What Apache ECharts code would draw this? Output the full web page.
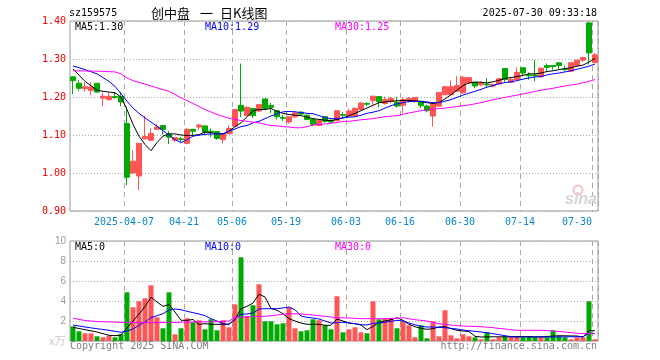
<!DOCTYPE html>
<html><head><meta charset="utf-8">
<script src="https://cdn.jsdelivr.net/npm/echarts@6/dist/echarts.min.js"></script>
<style>html,body{margin:0;padding:0;background:#fff}#c{width:660px;height:360px}</style>
</head><body><div id="c"></div>
<script>
const dates = ['2025-03-24','2025-03-25','2025-03-26','2025-03-27','2025-03-28','2025-03-31','2025-04-01','2025-04-02','2025-04-03','2025-04-07','2025-04-08','2025-04-09','2025-04-10','2025-04-11','2025-04-14','2025-04-15','2025-04-16','2025-04-17','2025-04-18','2025-04-21','2025-04-22','2025-04-23','2025-04-24','2025-04-25','2025-04-28','2025-04-29','2025-04-30','2025-05-06','2025-05-07','2025-05-08','2025-05-09','2025-05-12','2025-05-13','2025-05-14','2025-05-15','2025-05-16','2025-05-19','2025-05-20','2025-05-21','2025-05-22','2025-05-23','2025-05-26','2025-05-27','2025-05-28','2025-05-29','2025-05-30','2025-06-03','2025-06-04','2025-06-05','2025-06-06','2025-06-09','2025-06-10','2025-06-11','2025-06-12','2025-06-13','2025-06-16','2025-06-17','2025-06-18','2025-06-19','2025-06-20','2025-06-23','2025-06-24','2025-06-25','2025-06-26','2025-06-27','2025-06-30','2025-07-01','2025-07-02','2025-07-03','2025-07-04','2025-07-07','2025-07-08','2025-07-09','2025-07-10','2025-07-11','2025-07-14','2025-07-15','2025-07-16','2025-07-17','2025-07-18','2025-07-21','2025-07-22','2025-07-23','2025-07-24','2025-07-25','2025-07-28','2025-07-29','2025-07-30'];

const opens = [1.253,1.236,1.222,1.217,1.236,1.197,1.193,1.201,1.201,1.130,
 1.000,0.992,1.090,1.086,1.115,1.125,1.102,1.086,1.090,1.078,
 1.115,1.121,1.124,1.110,1.109,1.088,1.103,1.123,1.178,1.151,
 1.170,1.163,1.195,1.178,1.164,1.146,1.134,1.148,1.160,1.152,
 1.141,1.125,1.148,1.138,1.138,1.154,1.150,1.150,1.167,1.183,
 1.191,1.201,1.183,1.188,1.186,1.178,1.193,1.188,1.189,1.176,
 1.150,1.176,1.206,1.206,1.215,1.211,1.237,1.239,1.232,1.234,
 1.229,1.234,1.275,1.239,1.246,1.277,1.258,1.258,1.253,1.283,
 1.283,1.290,1.274,1.268,1.283,1.297,1.395,1.291];
const closes = [1.243,1.223,1.227,1.226,1.213,1.202,1.202,1.199,1.187,0.989,
 1.031,1.078,1.096,1.104,1.121,1.115,1.094,1.093,1.088,1.115,
 1.110,1.126,1.108,1.108,1.091,1.103,1.117,1.167,1.163,1.173,
 1.151,1.180,1.170,1.173,1.148,1.144,1.148,1.158,1.155,1.141,
 1.128,1.138,1.136,1.134,1.164,1.152,1.163,1.170,1.184,1.181,
 1.202,1.188,1.193,1.196,1.176,1.193,1.196,1.199,1.177,1.164,
 1.183,1.212,1.227,1.227,1.230,1.252,1.251,1.229,1.237,1.232,
 1.233,1.248,1.246,1.246,1.265,1.263,1.256,1.256,1.276,1.278,
 1.280,1.283,1.272,1.290,1.297,1.304,1.316,1.311];
const lows = [1.208,1.216,1.214,1.205,1.211,1.176,1.191,1.195,1.176,0.968,
 0.998,0.955,1.088,1.084,1.113,1.101,1.076,1.081,1.081,1.076,
 1.097,1.113,1.099,1.095,1.088,1.078,1.103,1.122,1.147,1.150,
 1.145,1.160,1.167,1.158,1.141,1.137,1.130,1.144,1.151,1.139,
 1.123,1.123,1.132,1.129,1.136,1.144,1.148,1.149,1.165,1.176,
 1.178,1.173,1.180,1.183,1.172,1.157,1.186,1.185,1.171,1.160,
 1.122,1.173,1.205,1.205,1.213,1.208,1.235,1.223,1.228,1.224,
 1.225,1.233,1.237,1.237,1.244,1.254,1.246,1.241,1.250,1.268,
 1.272,1.274,1.268,1.266,1.282,1.292,1.285,1.290];
const highs = [1.253,1.244,1.239,1.239,1.236,1.211,1.211,1.213,1.213,1.174,
 1.060,1.078,1.151,1.117,1.130,1.125,1.110,1.095,1.095,1.118,
 1.115,1.130,1.124,1.117,1.109,1.103,1.125,1.167,1.288,1.176,
 1.170,1.180,1.195,1.185,1.164,1.153,1.148,1.164,1.163,1.154,
 1.143,1.141,1.150,1.141,1.164,1.160,1.169,1.173,1.186,1.186,
 1.204,1.201,1.201,1.200,1.200,1.199,1.200,1.200,1.189,1.180,
 1.183,1.212,1.230,1.243,1.255,1.255,1.251,1.241,1.241,1.250,
 1.235,1.250,1.275,1.253,1.278,1.277,1.265,1.297,1.276,1.288,
 1.283,1.290,1.283,1.291,1.297,1.304,1.397,1.316];
const volumes = [1.47,0.97,0.77,0.77,0.47,0.37,0.53,0.37,0.67,4.87,
 3.37,3.97,4.27,5.57,2.37,1.27,4.87,0.67,1.27,2.27,
 1.87,2.07,1.17,2.17,1.07,2.07,1.37,3.67,8.37,2.47,
 3.57,5.67,1.97,1.97,1.67,1.77,3.37,1.27,0.97,1.07,
 2.17,2.07,1.57,1.17,4.47,0.87,1.17,1.37,0.87,0.77,
 3.97,2.17,2.27,2.27,1.27,1.97,1.57,0.37,1.57,0.27,
 1.97,0.47,3.07,0.57,0.27,0.67,0.47,0.37,0.17,0.87,
 0.17,0.37,0.47,0.47,0.47,0.37,0.47,0.37,0.37,0.37,
 1.07,0.47,0.37,0.17,0.37,0.37,3.97,0.17];

// moving-average lines: [category index, value]
const priceMA5 = [[0,1.274],[2,1.241],[4,1.218],[5,1.215],[6,1.213],[7,1.211],[8,1.200],[9,1.167],[10,1.128],[11,1.097],[12,1.075],[13,1.059],[14,1.080],[15,1.097],[16,1.103],[17,1.103],[18,1.100],[19,1.099],[20,1.099],[21,1.101],[22,1.108],[23,1.106],[24,1.103],[25,1.103],[26,1.110],[27,1.122],[28,1.132],[29,1.148],[30,1.164],[31,1.167],[32,1.167],[33,1.170],[34,1.162],[35,1.157],[36,1.154],[37,1.152],[38,1.151],[39,1.147],[40,1.143],[41,1.141],[42,1.139],[43,1.138],[44,1.141],[45,1.145],[46,1.151],[47,1.157],[48,1.164],[49,1.171],[50,1.178],[51,1.185],[52,1.187],[53,1.189],[54,1.190],[55,1.191],[56,1.191],[57,1.190],[58,1.188],[59,1.185],[60,1.183],[61,1.186],[62,1.195],[63,1.206],[64,1.218],[65,1.230],[66,1.237],[67,1.239],[68,1.239],[69,1.237],[70,1.240],[71,1.244],[72,1.249],[73,1.251],[74,1.254],[75,1.257],[76,1.261],[77,1.261],[78,1.263],[79,1.267],[80,1.269],[81,1.272],[82,1.275],[83,1.277],[84,1.281],[85,1.284],[86,1.292],[87,1.302]];
const priceMA10 = [[0,1.282],[2,1.272],[4,1.261],[6,1.241],[7,1.228],[8,1.209],[9,1.189],[10,1.171],[11,1.157],[12,1.145],[14,1.123],[16,1.100],[17,1.088],[18,1.080],[19,1.088],[20,1.097],[22,1.102],[24,1.103],[25,1.103],[26,1.110],[27,1.116],[28,1.122],[29,1.125],[30,1.132],[31,1.136],[32,1.143],[33,1.150],[34,1.156],[35,1.161],[36,1.162],[37,1.161],[38,1.159],[39,1.157],[40,1.156],[41,1.151],[42,1.146],[43,1.143],[44,1.143],[45,1.145],[46,1.147],[47,1.148],[48,1.152],[49,1.157],[50,1.160],[51,1.164],[52,1.171],[53,1.177],[54,1.182],[55,1.185],[56,1.188],[57,1.189],[58,1.188],[59,1.187],[60,1.185],[61,1.185],[62,1.189],[63,1.193],[64,1.199],[65,1.205],[66,1.210],[67,1.215],[68,1.220],[69,1.226],[70,1.230],[71,1.235],[72,1.238],[73,1.240],[74,1.243],[75,1.247],[76,1.250],[77,1.253],[78,1.254],[79,1.258],[80,1.261],[81,1.263],[82,1.266],[83,1.269],[84,1.273],[85,1.277],[86,1.281],[87,1.287]];
const priceMA30 = [[0,1.269],[4,1.268],[7,1.266],[8,1.261],[9,1.250],[10,1.243],[12,1.234],[14,1.224],[16,1.215],[18,1.198],[20,1.183],[22,1.167],[24,1.154],[26,1.144],[28,1.138],[29,1.136],[30,1.134],[31,1.132],[32,1.128],[33,1.125],[34,1.124],[35,1.122],[36,1.121],[37,1.119],[38,1.119],[39,1.122],[40,1.126],[41,1.128],[42,1.129],[43,1.131],[44,1.133],[45,1.136],[46,1.136],[48,1.140],[50,1.143],[52,1.148],[54,1.151],[56,1.158],[58,1.164],[60,1.168],[62,1.171],[64,1.175],[66,1.179],[68,1.185],[70,1.193],[72,1.199],[74,1.205],[76,1.211],[78,1.218],[80,1.223],[82,1.229],[84,1.234],[86,1.241],[87,1.246]];
const volMA5 = [[0,1.37],[2,1.13],[4,0.90],[6,0.57],[7,0.53],[8,0.6],[9,1.3],[10,2.0],[11,2.7],[12,3.45],[13,4.38],[14,3.9],[15,3.47],[16,3.65],[17,2.9],[18,2.07],[19,2.07],[20,2.15],[21,1.65],[22,1.73],[23,1.67],[24,1.67],[25,1.67],[26,1.7],[27,2.13],[28,3.23],[29,3.47],[30,3.8],[31,4.68],[32,4.4],[33,3.25],[34,3.07],[35,2.73],[36,2.23],[37,2.0],[38,1.8],[39,1.67],[40,1.67],[41,1.67],[42,1.57],[43,1.57],[44,2.2],[45,2.0],[46,1.8],[47,1.73],[48,1.6],[49,1.13],[50,1.47],[51,1.87],[52,2.0],[53,2.13],[54,2.33],[55,2.07],[56,1.67],[57,1.43],[58,1.27],[59,1.17],[60,1.23],[61,1.4],[62,1.43],[63,1.23],[64,1.07],[65,1.0],[66,0.95],[67,0.47],[68,0.4],[70,0.42],[72,0.42],[75,0.45],[78,0.42],[81,0.53],[84,0.5],[85,0.4],[86,1.05],[87,1.02]];
const volMA10 = [[0,1.6],[2,1.4],[4,1.23],[6,1.07],[8,0.87],[9,1.0],[10,1.2],[11,1.57],[12,1.9],[13,2.33],[14,2.53],[15,2.73],[16,3.1],[17,3.2],[18,3.13],[19,2.97],[20,2.83],[21,2.7],[22,2.53],[23,2.23],[24,2.0],[25,1.73],[26,1.63],[27,2.23],[28,2.67],[29,2.7],[30,2.8],[31,3.2],[32,3.23],[34,3.23],[35,3.3],[36,3.4],[37,3.13],[38,2.5],[39,2.37],[40,2.3],[41,2.2],[42,2.0],[43,1.8],[44,1.83],[45,1.87],[46,1.8],[47,1.73],[48,1.63],[49,1.6],[50,1.77],[51,1.8],[52,1.87],[53,1.97],[54,2.07],[55,2.0],[56,1.8],[57,1.63],[58,1.47],[59,1.4],[60,1.4],[61,1.37],[62,1.33],[63,1.27],[64,1.2],[65,1.1],[66,1.03],[67,0.97],[68,0.9],[69,0.83],[70,0.73],[71,0.63],[72,0.53],[73,0.43],[74,0.4],[80,0.4],[84,0.43],[85,0.43],[86,0.78],[87,0.75]];
const volMA30 = [[0,2.28],[2,2.05],[4,1.95],[8,1.87],[12,1.83],[16,1.85],[20,1.9],[24,1.93],[26,2.0],[27,2.35],[28,2.4],[32,2.47],[36,2.73],[38,2.7],[40,2.6],[43,2.4],[44,2.33],[46,2.3],[48,2.23],[52,2.23],[54,2.27],[55,2.33],[57,2.13],[59,2.0],[61,1.73],[63,1.6],[65,1.5],[68,1.43],[70,1.33],[72,1.2],[74,1.07],[78,1.07],[80,1.0],[82,0.9],[84,0.77],[87,0.73]];

const markedIdx = [9,19,27,36,46,55,65,75,87];
const priceMin = 0.9, priceMax = 1.4, priceStep = 0.1;
const volMin = 0, volMax = 10, volStep = 2;

const UP = '#ff5555', DOWN = '#00aa00';
const MONO = '"DejaVu Sans Mono", monospace';

const candleData = dates.map((d, i) => [opens[i], closes[i], lows[i], highs[i]]);
const volData = volumes.map((v, i) => ({ value: v, itemStyle: { color: closes[i] >= opens[i] ? UP : DOWN } }));

function xAxisCfg(gridIndex, showLabel) {
  return {
    type: 'category', gridIndex, data: dates, boundaryGap: true,
    axisLine: { show: false }, axisTick: { show: false },
    axisLabel: {
      show: showLabel, interval: (i) => markedIdx.includes(i), margin: 6,
      hideOverlap: false,
      color: '#0a86cc', fontFamily: MONO, fontSize: 10,
      formatter: (val, i) => {
        const t = i === 9 ? val : val.slice(5);
        return i === dates.length - 1 ? '{b|' + t + '}' : '{a|' + t + '}';
      },
      rich: {
        a: { padding: [0, 6, 0, 0], color: '#0a86cc', fontFamily: MONO, fontSize: 10 },
        b: { padding: [0, 36, 0, 0], color: '#0a86cc', fontFamily: MONO, fontSize: 10 }
      }
    },
    splitLine: { show: true, interval: (i) => markedIdx.includes(i), lineStyle: { color: '#a8a8a8', type: [5, 4], width: 1 } }
  };
}

function maLine(name, data, color, xi) {
  return { name, type: 'line', xAxisIndex: xi, yAxisIndex: xi, data, showSymbol: false, symbol: 'none',
    lineStyle: { color, width: 1 }, silent: true, animation: false, z: 3 };
}

function txt(x, y, text, fill, font, align) {
  return { type: 'text', x, y, silent: true, z: 100,
    style: { text, fill, font, align: align || 'left', verticalAlign: 'middle' } };
}

const chart = echarts.init(document.getElementById('c'), null, { renderer: 'canvas' });
chart.setOption({
  animation: false,
  backgroundColor: '#fff',
  grid: [
    { left: 70, top: 21, width: 528, height: 190, show: true, borderColor: '#999', borderWidth: 1, backgroundColor: 'transparent' },
    { left: 70, top: 241, width: 528, height: 100, show: true, borderColor: '#999', borderWidth: 1, backgroundColor: 'transparent' }
  ],
  xAxis: [xAxisCfg(0, true), xAxisCfg(1, false)],
  yAxis: [
    { type: 'value', gridIndex: 0, min: priceMin, max: priceMax, interval: priceStep,
      axisLine: { show: false }, axisTick: { show: false },
      axisLabel: { color: '#ee0000', fontFamily: MONO, fontSize: 10, margin: 4, formatter: v => v.toFixed(2) },
      splitLine: { lineStyle: { color: '#aaa', type: [1, 2], width: 1 } } },
    { type: 'value', gridIndex: 1, min: volMin, max: volMax, interval: volStep,
      axisLine: { show: false }, axisTick: { show: false },
      axisLabel: { color: '#999', fontFamily: '"Liberation Sans", Arial, sans-serif', fontSize: 10, margin: 4, formatter: v => v === 0 ? '' : String(v) },
      splitLine: { lineStyle: { color: '#aaa', type: [1, 2], width: 1 } } }
  ],
  series: [
    { type: 'candlestick', xAxisIndex: 0, yAxisIndex: 0, data: candleData, barWidth: 5, silent: true,
      itemStyle: { color: UP, color0: DOWN, borderColor: UP, borderColor0: DOWN, borderWidth: 1 } },
    maLine('MA5', priceMA5, '#000000', 0),
    maLine('MA10', priceMA10, '#0000ff', 0),
    maLine('MA30', priceMA30, '#ff00ff', 0),
    { type: 'bar', xAxisIndex: 1, yAxisIndex: 1, data: volData, barWidth: 5, silent: true },
    maLine('VMA5', volMA5, '#000000', 1),
    maLine('VMA10', volMA10, '#0000ff', 1),
    maLine('VMA30', volMA30, '#ff00ff', 1)
  ],
  graphic: [
    txt(69, 13, 'sz159575', '#000', '10px ' + MONO),
    txt(151, 13, '创中盘', '#000', '13px "Noto Sans CJK SC"'),
    txt(200, 13, '一', '#000', '13px "Noto Sans CJK SC"'),
    txt(220, 13, '日K线图', '#000', '13px "Noto Sans CJK SC"'),
    txt(597, 13, '2025-07-30 09:33:18', '#000', '10px ' + MONO, 'right'),
    txt(75, 27, 'MA5:1.30', '#000', '10px ' + MONO),
    txt(205, 27, 'MA10:1.29', '#0000ff', '10px ' + MONO),
    txt(335, 27, 'MA30:1.25', '#ff00ff', '10px ' + MONO),
    txt(75, 247, 'MA5:0', '#000', '10px ' + MONO),
    txt(205, 247, 'MA10:0', '#0000ff', '10px ' + MONO),
    txt(335, 247, 'MA30:0', '#ff00ff', '10px ' + MONO),
    txt(49, 341, 'x万', '#c8c8c8', '11px "Noto Sans CJK SC"'),
    txt(70, 346, 'Copyright 2025 SINA.COM', '#808080', '10px ' + MONO),
    txt(597, 346, 'http://finance.sina.com.cn', '#808080', '10px ' + MONO, 'right'),
    { type: 'circle', shape: { cx: 578, cy: 190, r: 4.5 }, silent: true, z: 1,
      style: { fill: 'none', stroke: '#f2c4c4', lineWidth: 2 } },
    txt(565, 200, 'sina', '#d4d4d4', 'italic bold 16px "Liberation Sans", sans-serif')
  ]
});
</script>
</body></html>
